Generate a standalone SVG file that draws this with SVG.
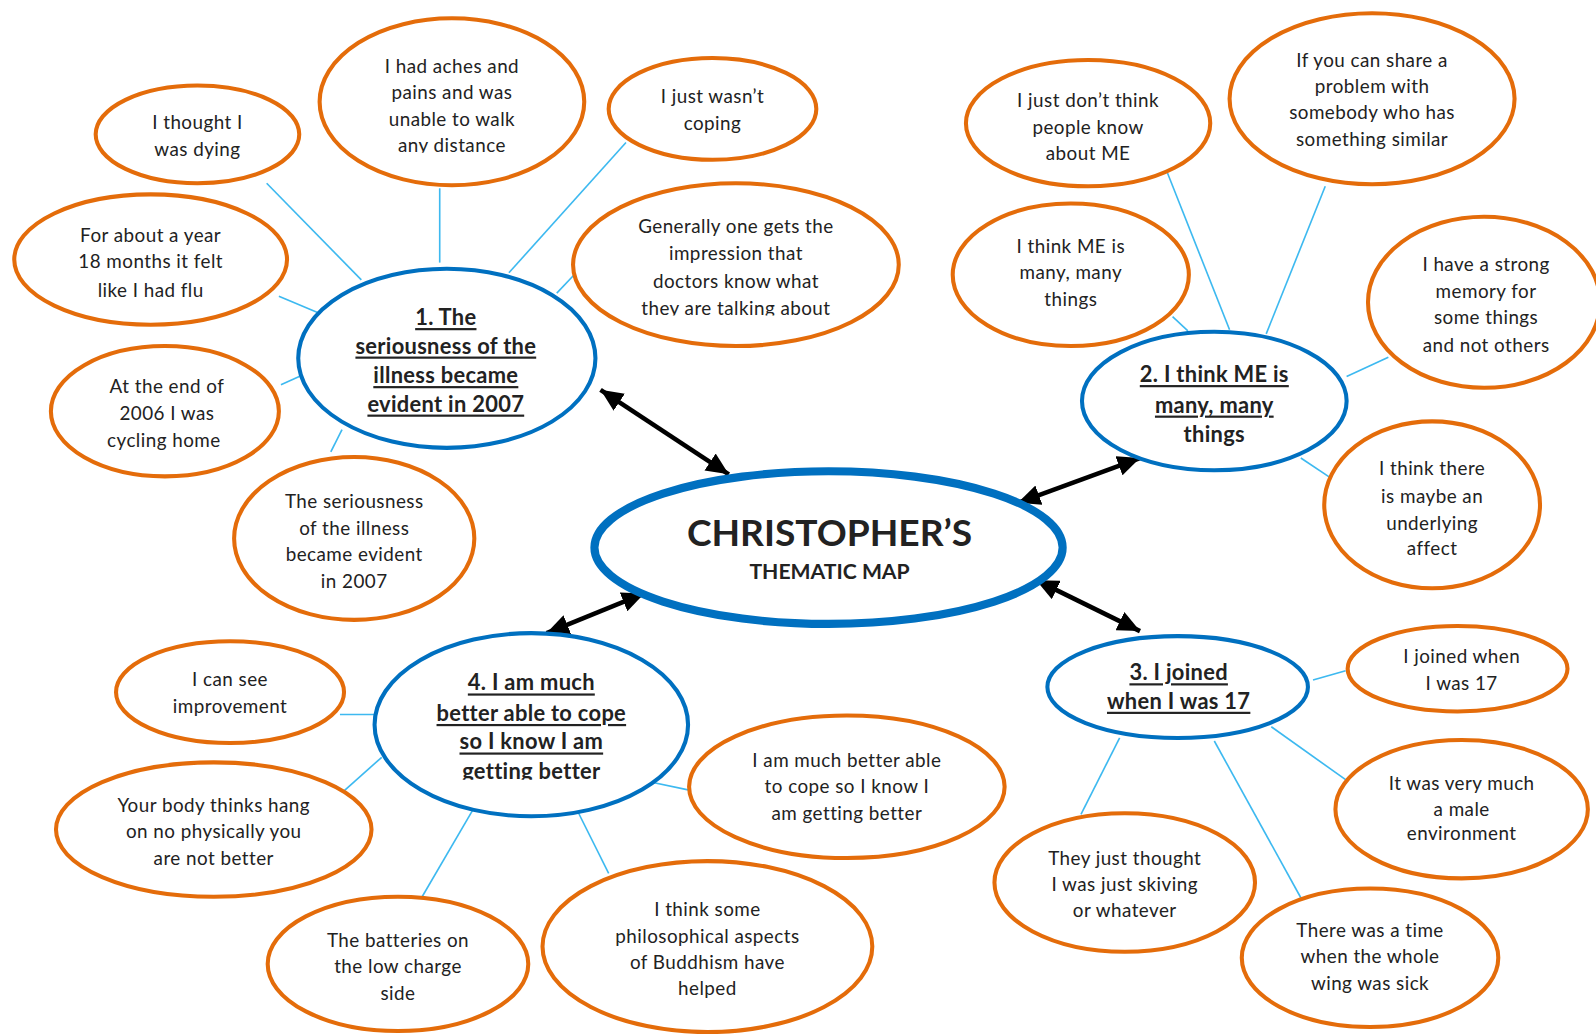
<svg xmlns="http://www.w3.org/2000/svg" width="1596" height="1034" viewBox="0 0 1596 1034">
  <defs>
    <style>
      .leaf { fill: #ffffff; stroke: #E46C0A; stroke-width: 4; }
      .theme { fill: #ffffff; stroke: #0070C0; stroke-width: 4; }
      .core { fill: #ffffff; stroke: #0070C0; stroke-width: 8; }
      .link { stroke: #3DB9F0; stroke-width: 1.6; fill: none; }
      .arrow { stroke: #000000; stroke-width: 4.5; fill: none; marker-start: url(#head); marker-end: url(#head); }
      text { font-family: Lato, "Liberation Sans", sans-serif; fill: #222222; text-anchor: middle; dominant-baseline: central; }
      .t { font-size: 18.5px; letter-spacing: 0.45px; }
      .h { font-size: 21.5px; font-weight: bold; letter-spacing: 0.3px; }
      .u { text-decoration: underline; }
      .big { font-size: 36.5px; font-weight: bold; }
      .sub { font-size: 20.8px; font-weight: bold; }
    </style>
    <marker id="head" markerUnits="userSpaceOnUse" markerWidth="24" markerHeight="20" refX="22" refY="10" orient="auto-start-reverse">
      <path d="M0,0 L22,10 L0,20 Z" fill="#000000"/>
    </marker>
    <!-- text boxes that cut the descenders of their last line -->
    <clipPath id="clip-aches"><rect x="300" y="120" width="300" height="30"/></clipPath>
    <clipPath id="clip-doctors"><rect x="560" y="280" width="330" height="30"/></clipPath>
    <clipPath id="clip-theme4"><rect x="380" y="735" width="300" height="31"/></clipPath>
  </defs>

  <g transform="scale(1.017857)">
    <!-- thin connectors from themes to quotes, and the arrows to the centre -->
    <g id="connectors">
      <line class="link" x1="262" y1="180" x2="355" y2="275"/>
      <line class="link" x1="432" y1="185" x2="432" y2="258"/>
      <line class="link" x1="615" y1="140" x2="500" y2="268"/>
      <line class="link" x1="274" y1="291" x2="312" y2="307"/>
      <line class="link" x1="566" y1="268" x2="547" y2="288"/>
      <line class="link" x1="276" y1="378" x2="294" y2="370"/>
      <line class="link" x1="336" y1="422" x2="325" y2="444"/>

      <line class="link" x1="1147" y1="170" x2="1208" y2="324"/>
      <line class="link" x1="1302" y1="183" x2="1244" y2="328"/>
      <line class="link" x1="1152" y1="311" x2="1167" y2="325"/>
      <line class="link" x1="1364" y1="351" x2="1323" y2="370"/>
      <line class="link" x1="1278" y1="450" x2="1308" y2="470"/>

      <line class="link" x1="1290" y1="668" x2="1322" y2="659"/>
      <line class="link" x1="1249" y1="714" x2="1322" y2="766"/>
      <line class="link" x1="1100" y1="725" x2="1062" y2="800"/>
      <line class="link" x1="1193" y1="728" x2="1278" y2="882"/>

      <line class="link" x1="334" y1="702" x2="368" y2="702"/>
      <line class="link" x1="338" y1="777" x2="375" y2="744"/>
      <line class="link" x1="465" y1="795" x2="413" y2="884"/>
      <line class="link" x1="568" y1="798" x2="598" y2="858"/>
      <line class="link" x1="638" y1="768" x2="676" y2="776"/>

      <line class="arrow" x1="590" y1="383" x2="716" y2="466"/>
      <line class="arrow" x1="1120" y1="450" x2="1000" y2="494"/>
      <line class="arrow" x1="633" y1="583" x2="537" y2="622"/>
      <line class="arrow" x1="1018" y1="570" x2="1120" y2="620"/>
    </g>

    <!-- theme 1 and its quotes -->
    <g id="q-dying">
      <ellipse class="leaf" cx="194" cy="132" rx="100" ry="48"/>
      <text class="t" x="194" y="119">I thought I</text>
      <text class="t" x="194" y="146">was dying</text>
    </g>
    <g id="q-aches">
      <ellipse class="leaf" cx="444" cy="100" rx="130" ry="82"/>
      <text class="t" x="444" y="64">I had aches and</text>
      <text class="t" x="444" y="90">pains and was</text>
      <text class="t" x="444" y="116">unable to walk</text>
      <text class="t" x="444" y="142" clip-path="url(#clip-aches)">any distance</text>
    </g>
    <g id="q-coping">
      <ellipse class="leaf" cx="700" cy="107" rx="102" ry="50"/>
      <text class="t" x="700" y="94">I just wasn’t</text>
      <text class="t" x="700" y="120">coping</text>
    </g>
    <g id="q-flu">
      <ellipse class="leaf" cx="148" cy="255" rx="134" ry="64"/>
      <text class="t" x="148" y="230">For about a year</text>
      <text class="t" x="148" y="256">18 months it felt</text>
      <text class="t" x="148" y="284">like I had flu</text>
    </g>
    <g id="q-doctors">
      <ellipse class="leaf" cx="723" cy="260" rx="160" ry="80"/>
      <text class="t" x="723" y="222">Generally one gets the</text>
      <text class="t" x="723" y="248">impression that</text>
      <text class="t" x="723" y="276">doctors know what</text>
      <text class="t" x="723" y="302" clip-path="url(#clip-doctors)">they are talking about</text>
    </g>
    <g id="q-cycling">
      <ellipse class="leaf" cx="162" cy="404" rx="112" ry="64"/>
      <text class="t" x="164" y="379">At the end of</text>
      <text class="t" x="164" y="405">2006 I was</text>
      <text class="t" x="161" y="432">cycling home</text>
    </g>
    <g id="q-evident">
      <ellipse class="leaf" cx="348" cy="529" rx="118" ry="80"/>
      <text class="t" x="348" y="492">The seriousness</text>
      <text class="t" x="348" y="518">of the illness</text>
      <text class="t" x="348" y="544">became evident</text>
      <text class="t" x="348" y="570">in 2007</text>
    </g>
    <g id="theme-1">
      <ellipse class="theme" cx="439" cy="352" rx="146" ry="88"/>
      <text class="h u" x="438" y="311">1. The</text>
      <text class="h u" x="438" y="339">seriousness of the</text>
      <text class="h u" x="438" y="368">illness became</text>
      <text class="h u" x="438" y="396">evident in 2007</text>
    </g>

    <!-- theme 2 and its quotes -->
    <g id="q-people">
      <ellipse class="leaf" cx="1069" cy="121" rx="120" ry="62"/>
      <text class="t" x="1069" y="98">I just don’t think</text>
      <text class="t" x="1069" y="124">people know</text>
      <text class="t" x="1069" y="150">about ME</text>
    </g>
    <g id="q-share">
      <ellipse class="leaf" cx="1348" cy="97" rx="140" ry="84"/>
      <text class="t" x="1348" y="58">If you can share a</text>
      <text class="t" x="1348" y="84">problem with</text>
      <text class="t" x="1348" y="110">somebody who has</text>
      <text class="t" x="1348" y="136">something similar</text>
    </g>
    <g id="q-many">
      <ellipse class="leaf" cx="1052" cy="270" rx="116" ry="70"/>
      <text class="t" x="1052" y="241">I think ME is</text>
      <text class="t" x="1052" y="267">many, many</text>
      <text class="t" x="1052" y="293">things</text>
    </g>
    <g id="q-memory">
      <ellipse class="leaf" cx="1458" cy="297" rx="114" ry="84"/>
      <text class="t" x="1460" y="259">I have a strong</text>
      <text class="t" x="1460" y="285">memory for</text>
      <text class="t" x="1460" y="311">some things</text>
      <text class="t" x="1460" y="338">and not others</text>
    </g>
    <g id="q-affect">
      <ellipse class="leaf" cx="1407" cy="496" rx="106" ry="82"/>
      <text class="t" x="1407" y="459">I think there</text>
      <text class="t" x="1407" y="487">is maybe an</text>
      <text class="t" x="1407" y="513">underlying</text>
      <text class="t" x="1407" y="538">affect</text>
    </g>
    <g id="theme-2">
      <ellipse class="theme" cx="1193" cy="394" rx="130" ry="68"/>
      <text class="h u" x="1193" y="367">2. I think ME is</text>
      <text class="h u" x="1193" y="397">many, many</text>
      <text class="h" x="1193" y="426">things</text>
    </g>

    <!-- centre -->
    <g id="centre">
      <ellipse class="core" cx="814" cy="538" rx="230" ry="75"/>
      <text class="big" x="815" y="522">CHRISTOPHER’S</text>
      <text class="sub" x="815" y="561">THEMATIC MAP</text>
    </g>

    <!-- theme 3 and its quotes -->
    <g id="q-joined">
      <ellipse class="leaf" cx="1432" cy="657" rx="108" ry="42"/>
      <text class="t" x="1436" y="644">I joined when</text>
      <text class="t" x="1436" y="671">I was 17</text>
    </g>
    <g id="q-male">
      <ellipse class="leaf" cx="1436" cy="795" rx="124" ry="68"/>
      <text class="t" x="1436" y="769">It was very much</text>
      <text class="t" x="1436" y="794">a male</text>
      <text class="t" x="1436" y="818">environment</text>
    </g>
    <g id="q-skiving">
      <ellipse class="leaf" cx="1105" cy="867" rx="128" ry="68"/>
      <text class="t" x="1105" y="842">They just thought</text>
      <text class="t" x="1105" y="868">I was just skiving</text>
      <text class="t" x="1105" y="894">or whatever</text>
    </g>
    <g id="q-wing">
      <ellipse class="leaf" cx="1346" cy="941" rx="126" ry="68"/>
      <text class="t" x="1346" y="913">There was a time</text>
      <text class="t" x="1346" y="939">when the whole</text>
      <text class="t" x="1346" y="965">wing was sick</text>
    </g>
    <g id="theme-3">
      <ellipse class="theme" cx="1157" cy="675" rx="128" ry="50"/>
      <text class="h u" x="1158" y="660">3. I joined</text>
      <text class="h u" x="1158" y="688">when I was 17</text>
    </g>

    <!-- theme 4 and its quotes -->
    <g id="q-improvement">
      <ellipse class="leaf" cx="226" cy="680" rx="112" ry="50"/>
      <text class="t" x="226" y="667">I can see</text>
      <text class="t" x="226" y="693">improvement</text>
    </g>
    <g id="q-body">
      <ellipse class="leaf" cx="210" cy="815" rx="155" ry="66"/>
      <text class="t" x="210" y="790">Your body thinks hang</text>
      <text class="t" x="210" y="816">on no physically you</text>
      <text class="t" x="210" y="842">are not better</text>
    </g>
    <g id="q-batteries">
      <ellipse class="leaf" cx="391" cy="947" rx="128" ry="66"/>
      <text class="t" x="391" y="923">The batteries on</text>
      <text class="t" x="391" y="949">the low charge</text>
      <text class="t" x="391" y="975">side</text>
    </g>
    <g id="q-buddhism">
      <ellipse class="leaf" cx="695" cy="930" rx="162" ry="84"/>
      <text class="t" x="695" y="893">I think some</text>
      <text class="t" x="695" y="919">philosophical aspects</text>
      <text class="t" x="695" y="945">of Buddhism have</text>
      <text class="t" x="695" y="970">helped</text>
    </g>
    <g id="q-cope">
      <ellipse class="leaf" cx="832" cy="773" rx="155" ry="70"/>
      <text class="t" x="832" y="746">I am much better able</text>
      <text class="t" x="832" y="772">to cope so I know I</text>
      <text class="t" x="832" y="798">am getting better</text>
    </g>
    <g id="theme-4">
      <ellipse class="theme" cx="522" cy="712" rx="154" ry="90"/>
      <text class="h u" x="522" y="670">4. I am much</text>
      <text class="h u" x="522" y="700">better able to cope</text>
      <text class="h u" x="522" y="728">so I know I am</text>
      <text class="h" x="522" y="757" clip-path="url(#clip-theme4)">getting better</text>
    </g>
  </g>
</svg>
